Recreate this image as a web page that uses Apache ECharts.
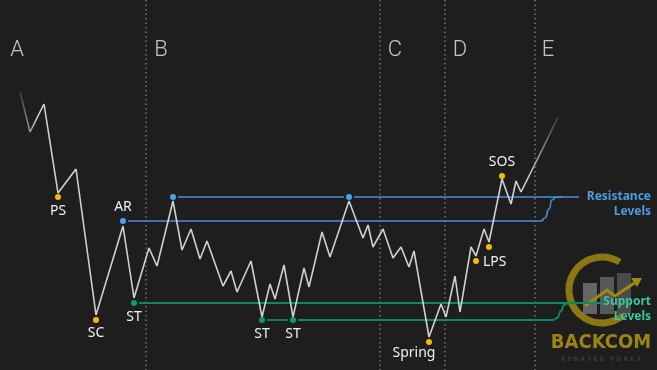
<!DOCTYPE html>
<html><head><meta charset="utf-8">
<script src="https://cdn.jsdelivr.net/npm/echarts@6/dist/echarts.min.js"></script>
<style>html,body{margin:0;padding:0;background:#1e1e1e;}#c{width:657px;height:370px;}</style>
</head><body><div id="c"></div>
<script>
// Price path (time units, price units on an inverted scale)
const priceX = [20,30,44,58,76,96,123,134,149,157,173,182,191,200,207,223,231,237,251,262,270,275,284,293,304,309,322,330,349,363,368,373,383,393,401,409,414,429,441,446,455,460,471,476,484,489,502,511,516,521,542,558];
const priceY = [92,132,104,193,169,315,226,298,248,266,201,250,229,259,241,286,271,292,261,317,284,299,265,317,268,287,232,257,201,238,225,247,229,258,247,267,251,337,304,317,276,312,247,256,229,242,179,204,181,192,150,117];

// Event points
const eventNames = ['PS','SC','AR','ST','','','ST','ST','Spring','LPS','','SOS'];
const eventX = [58,96,123,134,173,349,262,293,429,476,489,502];
const eventY = [197,320,221,303,197,197,320,320,342,261,247,176];
const eventKind = ['y','y','b','g','b','b','g','g','y','y','y','y'];

// Phases
const phaseNames = ['A','B','C','D','E'];
const phaseX = [17,161,395,460,548];
const phaseBounds = [146,380,445,535];

// Levels
const resTopX = [[178,344],[354,579]];
const resTopY = 197;
const resLowY = 221;
const resLowX = [128,541];
const supTopY = 303;
const supTopX = [139,605];
const supLowY = 320;
const supLowX = [[267,288],[298,553]];

const C = {bg:'#1e1e1e', line:'#d9d9d9', blue:'#4b8fd6', blueDot:'#4aa3f0', green:'#0d8a5f', greenDot:'#0aa06c', yellow:'#f5ba05', text:'#f0f0f0'};
const dotColor = {y:C.yellow,b:C.blueDot,g:C.greenDot};
const labelCfg = {
  'PS':{position:'bottom',distance:4},
  'SC':{position:'bottom',distance:3},
  'AR':{position:'top',distance:4},
  'ST':{position:'bottom',distance:4},
  'Spring':{position:'bottom',distance:1,offset:[-15,0]},
  'LPS':{position:'right',distance:4,offset:[0,1]},
  'SOS':{position:'top',distance:4}
};

const chart = echarts.init(document.getElementById('c'));
const series = [];
// phase boundaries
phaseBounds.forEach(x=>{
  series.push({type:'line',data:[[x,0],[x,370]],symbol:'none',silent:true,
    lineStyle:{color:'#8a8a8a',width:1.2,type:[1.5,3]},z:1});
});
// resistance
resTopX.forEach(s=>series.push({type:'line',data:[[s[0],resTopY],[s[1],resTopY]],symbol:'none',lineStyle:{color:C.blue,width:1.6},z:2}));
series.push({type:'line',smooth:0.6,smoothMonotone:'x',symbol:'none',lineStyle:{color:C.blue,width:1.6},z:2,
  data:[[resLowX[0],resLowY],[resLowX[1],resLowY],[545,218],[549,209],[552,200],[556,197.3],[562,resTopY]]});
// support
series.push({type:'line',data:[[supTopX[0],supTopY],[supTopX[1],supTopY]],symbol:'none',lineStyle:{color:C.green,width:1.8},z:2});
series.push({type:'line',data:[[supLowX[0][0],supLowY],[supLowX[0][1],supLowY]],symbol:'none',lineStyle:{color:C.green,width:1.8},z:2});
series.push({type:'line',smooth:0.6,smoothMonotone:'x',symbol:'none',lineStyle:{color:C.green,width:1.8},z:2,
  data:[[supLowX[1][0],supLowY],[supLowX[1][1],supLowY],[557,318],[561,311],[564,305],[568,303.3],[574,supTopY]]});
// price
series.push({type:'line',data:priceX.map((x,i)=>[x,priceY[i]]),symbol:'none',z:3,
  lineStyle:{width:1.6,color:new echarts.graphic.LinearGradient(0,0,1,0,[
    {offset:0,color:'rgba(217,217,217,0.05)'},{offset:0.035,color:'rgba(217,217,217,0.95)'},
    {offset:0.94,color:'rgba(217,217,217,0.95)'},{offset:1,color:'rgba(217,217,217,0.1)'}])}});
// events
series.push({type:'scatter',z:5,symbolSize:6,
  data:eventX.map((x,i)=>{
    const n=eventNames[i]; const lc=labelCfg[n]||{};
    return {value:[x,eventY[i]],itemStyle:{color:dotColor[eventKind[i]],opacity:1},
      label:{show:!!n,formatter:n,position:lc.position||'top',distance:lc.distance||5,offset:lc.offset||[0,0],
        color:C.text,fontSize:14,fontFamily:'Noto Sans'}};
  })});
// phase letters
series.push({type:'scatter',z:5,symbolSize:0,
  data:phaseNames.map((n,i)=>({value:[phaseX[i],50],label:{show:true,position:'inside',formatter:n,color:'#ececec',fontSize:22,fontWeight:300,fontFamily:'Roboto'}}))});

chart.setOption({
  backgroundColor:C.bg,animation:false,
  grid:{left:0,right:0,top:0,bottom:0},
  xAxis:{type:'value',min:0,max:657,show:false},
  yAxis:{type:'value',min:0,max:370,inverse:true,show:false},
  series:series,
  graphic:[
    // logo watermark
    {type:'group',z:0,silent:true,children:[
      {type:'arc',shape:{cx:602,cy:290,r:33,startAngle:-Math.PI*0.32,endAngle:Math.PI*0.28,clockwise:false},style:{stroke:'#a08812',lineWidth:7,fill:null,opacity:0.85}},
      {type:'rect',shape:{x:583,y:283,width:14,height:31},style:{fill:'#777777',opacity:0.8}},
      {type:'rect',shape:{x:600,y:277,width:14,height:37},style:{fill:'#666666',opacity:0.8}},
      {type:'rect',shape:{x:617,y:273,width:14,height:41},style:{fill:'#555555',opacity:0.8}},
      {type:'polyline',shape:{points:[[585,306],[607,290],[615,296],[636,282]]},style:{stroke:'#a08812',lineWidth:3,fill:null}},
      {type:'polygon',shape:{points:[[631,278],[642,278],[637,287]]},style:{fill:'#a08812'}},
      {type:'text',style:{x:601,y:343,text:'BACKCOM',fill:'#9c8414',font:'bold 20px "DejaVu Sans Condensed"',align:'center',verticalAlign:'middle'}},
      {type:'text',style:{x:601,y:359,text:'R E B A T E S   F O R E X',fill:'#3c3c3c',font:'bold 6px "DejaVu Sans"',align:'center',verticalAlign:'middle'}}
    ]},
    {type:'text',z:10,style:{x:651,y:197,text:'Resistance',fill:'#4f9be0',font:'bold 12px "Noto Sans"',align:'right',verticalAlign:'middle'}},
    {type:'text',z:10,style:{x:651,y:212,text:'Levels',fill:'#4f9be0',font:'bold 12px "Noto Sans"',align:'right',verticalAlign:'middle'}},
    {type:'text',z:10,style:{x:651,y:302,text:'Support',fill:'#39c79c',font:'bold 12px "Noto Sans"',align:'right',verticalAlign:'middle'}},
    {type:'text',z:10,style:{x:651,y:317,text:'Levels',fill:'#39c79c',font:'bold 12px "Noto Sans"',align:'right',verticalAlign:'middle'}}
  ]
});
</script></body></html>
